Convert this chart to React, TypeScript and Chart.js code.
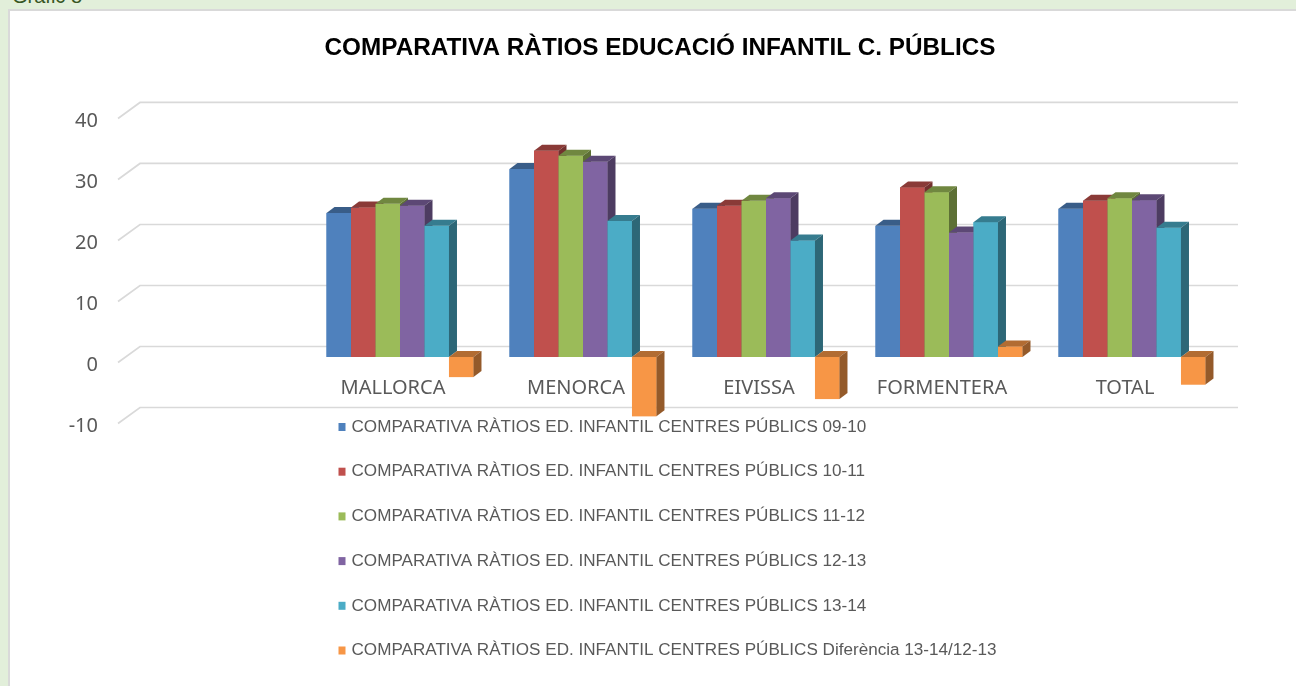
import React, { useEffect, useRef } from "react";
import { Chart, registerables } from "chart.js";

Chart.register(...registerables);

// ---- data ----
const categories = ["", "MALLORCA", "MENORCA", "EIVISSA", "FORMENTERA", "TOTAL"];
const seriesNames = [
  "COMPARATIVA RÀTIOS ED. INFANTIL CENTRES PÚBLICS 09-10",
  "COMPARATIVA RÀTIOS ED. INFANTIL CENTRES PÚBLICS 10-11",
  "COMPARATIVA RÀTIOS ED. INFANTIL CENTRES PÚBLICS 11-12",
  "COMPARATIVA RÀTIOS ED. INFANTIL CENTRES PÚBLICS 12-13",
  "COMPARATIVA RÀTIOS ED. INFANTIL CENTRES PÚBLICS 13-14",
  "COMPARATIVA RÀTIOS ED. INFANTIL CENTRES PÚBLICS Diferència 13-14/12-13",
];
const ratios0910 = [null, 23.6, 30.8, 24.3, 21.5, 24.3];
const ratios1011 = [null, 24.5, 33.8, 24.8, 27.8, 25.6];
const ratios1112 = [null, 25.1, 33.0, 25.6, 27.0, 26.0];
const ratios1213 = [null, 24.8, 32.0, 26.0, 20.4, 25.7];
const ratios1314 = [null, 21.5, 22.3, 19.1, 22.1, 21.2];
const diferencia = [null, -3.3, -9.7, -6.9, 1.7, -4.5];
const yTicks = [-10, 0, 10, 20, 30, 40];
const titleText = "COMPARATIVA RÀTIOS EDUCACIÓ INFANTIL C. PÚBLICS";

// ---- styles ----
const colors = ["#4f81bd", "#c0504d", "#9bbb59", "#8064a2", "#4bacc6", "#f79646"];
const seriesData = [ratios0910, ratios1011, ratios1112, ratios1213, ratios1314, diferencia];

function shade(hex: string, f: number) {
  const n = parseInt(hex.slice(1), 16);
  const r = Math.round(((n >> 16) & 255) * f);
  const g = Math.round(((n >> 8) & 255) * f);
  const b = Math.round((n & 255) * f);
  return `rgb(${r},${g},${b})`;
}

const DX = 8;
const DY = -6;

const gridPlugin = {
  id: "backWallGrid",
  beforeDatasetsDraw(chart: any) {
    const { ctx, chartArea, scales } = chart;
    const y = scales.y;
    ctx.save();
    ctx.strokeStyle = "#d9d9d9";
    ctx.lineWidth = 1.7;
    yTicks.forEach((v) => {
      const yb = y.getPixelForValue(v) - 10.5;
      ctx.beginPath();
      ctx.moveTo(chartArea.left - 7.5, yb + 16);
      ctx.lineTo(chartArea.left + 14.5, yb);
      ctx.lineTo(chartArea.right + 14.5, yb);
      ctx.stroke();
    });
    ctx.restore();
  },
};

const bars3dPlugin = {
  id: "bars3d",
  afterDatasetsDraw(chart: any) {
    const ctx = chart.ctx;
    const n = chart.data.labels.length;
    ctx.save();
    for (let c = 0; c < n; c++) {
      chart.data.datasets.forEach((ds: any, d: number) => {
        const v = ds.data[c];
        const el = chart.getDatasetMeta(d).data[c];
        if (v == null || !el) return;
        const { x, y, base, width } = el.getProps(["x", "y", "base", "width"], true);
        const col = colors[d];
        const l = x - width / 2;
        const r = x + width / 2;
        const top = Math.min(y, base);
        const bot = Math.max(y, base);
        ctx.fillStyle = col;
        ctx.fillRect(l, top, width, bot - top);
        ctx.fillStyle = shade(col, 0.72);
        ctx.beginPath();
        ctx.moveTo(l, top);
        ctx.lineTo(l + DX, top + DY);
        ctx.lineTo(r + DX, top + DY);
        ctx.lineTo(r, top);
        ctx.closePath();
        ctx.fill();
        ctx.fillStyle = shade(col, 0.6);
        ctx.beginPath();
        ctx.moveTo(r, top);
        ctx.lineTo(r + DX, top + DY);
        ctx.lineTo(r + DX, bot + DY);
        ctx.lineTo(r, bot);
        ctx.closePath();
        ctx.fill();
      });
    }
    ctx.restore();
  },
};

const legendPlugin = {
  id: "stackedLegend",
  afterDraw(chart: any) {
    const { ctx, chartArea } = chart;
    const lx = chartArea.left + 213;
    const ly0 = chartArea.bottom + 9;
    ctx.save();
    ctx.font = "17.1px 'Liberation Sans', Arial, sans-serif";
    ctx.textBaseline = "middle";
    ctx.textAlign = "left";
    seriesNames.forEach((name, i) => {
      const yy = ly0 + i * 44.7;
      ctx.fillStyle = colors[i];
      ctx.fillRect(lx, yy - 4, 7, 8);
      ctx.fillStyle = "#595959";
      ctx.fillText(name, lx + 13, yy);
    });
    ctx.restore();
  },
};

export default function App() {
  const ref = useRef<HTMLCanvasElement>(null);

  useEffect(() => {
    const chart = new Chart(ref.current as HTMLCanvasElement, {
      type: "bar",
      data: {
        labels: categories,
        datasets: seriesNames.map((name, i) => ({
          label: name,
          data: seriesData[i],
          backgroundColor: colors[i],
          borderWidth: 0,
          categoryPercentage: 0.803,
          barPercentage: 1,
        })),
      },
      options: {
        animation: false,
        responsive: false,
        devicePixelRatio: 1,
        layout: { padding: { left: 0, right: 0, top: 0, bottom: 268 } },
        plugins: {
          legend: { display: false },
          tooltip: { enabled: false },
          title: {
            display: true,
            text: titleText,
            color: "#000000",
            font: { family: "'Liberation Sans', Arial, sans-serif", size: 24.3, weight: "bold" },
            padding: { top: 23, bottom: 49.8 },
          },
        },
        scales: {
          x: {
            type: "category",
            position: { y: 0 } as any,
            grid: { display: false },
            border: { display: false },
            ticks: {
              color: "#595959",
              font: { family: "'Noto Sans', sans-serif", size: 20 },
              padding: 11,
              labelOffset: -7,
              autoSkip: false,
              maxRotation: 0,
            },
          },
          y: {
            type: "linear",
            position: "left",
            min: -10,
            max: 40,
            grid: { display: false },
            border: { display: false },
            ticks: {
              stepSize: 10,
              color: "#595959",
              font: { family: "'Noto Sans', sans-serif", size: 20 },
              padding: 19.5,
              labelOffset: 8.5,
            },
            afterFit: (s: any) => {
              s.width = 115.5;
            },
          },
          y2: {
            type: "linear",
            position: "right",
            display: true,
            grid: { display: false },
            border: { display: false },
            ticks: { display: false },
            afterFit: (s: any) => {
              s.width = 86.5;
            },
          },
        },
      },
      plugins: [gridPlugin, bars3dPlugin, legendPlugin],
    } as any);
    return () => chart.destroy();
  }, []);

  return (
    <div
      style={{
        position: "fixed",
        left: 0,
        top: 0,
        width: 1296,
        height: 686,
        overflow: "hidden",
        background: "#e2efda",
      }}
    >
      <div
        style={{
          position: "absolute",
          left: 12,
          top: -15,
          fontFamily: "'Liberation Sans', Arial, sans-serif",
          fontSize: 20,
          lineHeight: "23px",
          color: "#375623",
          whiteSpace: "nowrap",
        }}
      >
        Gràfic 8
      </div>
      <div
        style={{
          position: "absolute",
          left: 8,
          top: 9,
          width: 1312,
          height: 700,
          background: "#ffffff",
          border: "2px solid #d9d9d9",
          boxSizing: "border-box",
        }}
      >
        <canvas ref={ref} width={1300} height={675} style={{ position: "absolute", left: 0, top: 0 }} />
      </div>
    </div>
  );
}
